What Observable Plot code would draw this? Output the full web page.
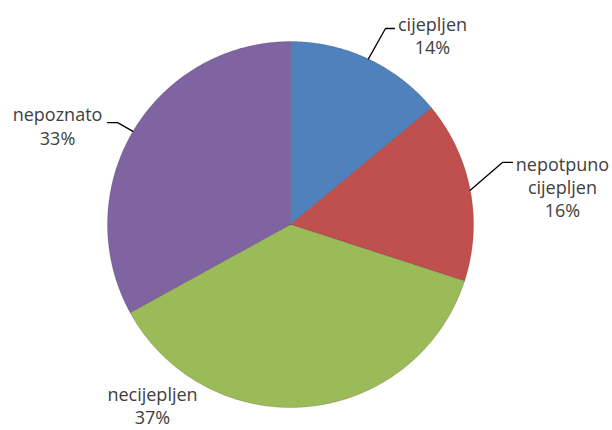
<!DOCTYPE html>
<html>
<head>
<meta charset="utf-8">
<script src="https://cdn.jsdelivr.net/npm/d3@7"></script>
<script src="https://cdn.jsdelivr.net/npm/@observablehq/plot@0.6"></script>
<style>
  html, body { margin: 0; padding: 0; background: #fff; }
  #chart { width: 612px; height: 430px; }
</style>
</head>
<body>
<div id="chart"></div>
<script>
// ---- data ----
const categories = ["cijepljen", "nepotpuno cijepljen", "necijepljen", "nepoznato"];
const shares = [14, 16, 37, 33];
const colors = ["#4F81BD", "#C0504D", "#9BBB59", "#8064A2"];

// ---- layout (in pie-radius units, centre = 0,0) ----
const R = 183, CX = 290, CY = 224, W = 612, H = 430;
const labelCenter = [[0.776, 1.036], [1.486, 0.208], [-0.754, -0.985], [-1.273, 0.540]];
const leaderElbow = [[0.519, 1.071], [1.158, 0.339], null, [-0.945, 0.557]];
const leaderEnd   = [[0.568, 1.071], [1.213, 0.339], null, [-1.000, 0.557]];

const arcs = d3.pie().sort(null).value(d => d)(shares);

// slice polygons
const slicePts = [];
arcs.forEach((a, i) => {
  const c = categories[i];
  slicePts.push({x: 0, y: 0, c});
  const n = Math.max(2, Math.ceil((a.endAngle - a.startAngle) / 0.005));
  for (let k = 0; k <= n; k++) {
    const t = a.startAngle + (a.endAngle - a.startAngle) * k / n;
    slicePts.push({x: Math.sin(t), y: Math.cos(t), c});
  }
  slicePts.push({x: 0, y: 0, c});
});

// leader lines: start at slice mid-angle on the rim
const leaderPts = [];
arcs.forEach((a, i) => {
  if (!leaderElbow[i]) return;
  const m = (a.startAngle + a.endAngle) / 2;
  const c = categories[i];
  leaderPts.push({x: Math.sin(m), y: Math.cos(m), c});
  leaderPts.push({x: leaderElbow[i][0], y: leaderElbow[i][1], c});
  leaderPts.push({x: leaderEnd[i][0], y: leaderEnd[i][1], c});
});

const labels = categories.map((c, i) => ({
  x: labelCenter[i][0],
  y: labelCenter[i][1],
  text: c.replace(" ", "\n") + "\n" + shares[i] + "%"
}));

const chart = Plot.plot({
  width: W,
  height: H,
  margin: 0,
  style: {background: "#fff"},
  x: {domain: [-CX / R, (W - CX) / R], axis: null},
  y: {domain: [-(H - CY) / R, CY / R], axis: null},
  color: {domain: categories, range: colors},
  marks: [
    Plot.line(slicePts, {x: "x", y: "y", z: "c", fill: "c", stroke: "#000", strokeOpacity: 0.15, strokeWidth: 1, curve: "linear"}),
    Plot.line(leaderPts, {x: "x", y: "y", z: "c", stroke: "#000", strokeWidth: 1.3}),
    Plot.text(labels, {x: "x", y: "y", text: "text", fontSize: 18, lineHeight: 1.3, fill: "#404040", fontFamily: "Open Sans", textAnchor: "middle"})
  ]
});
document.getElementById("chart").appendChild(chart);
</script>
</body>
</html>
